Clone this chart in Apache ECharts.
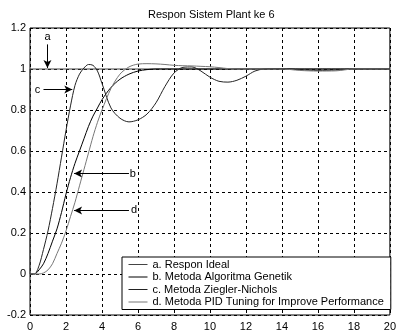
<!DOCTYPE html>
<html>
<head>
<meta charset="utf-8">
<script src="https://cdn.jsdelivr.net/npm/echarts@6/dist/echarts.min.js"></script>
<style>
html,body{margin:0;padding:0;background:#fff;}
#chart{width:399px;height:332px;}
</style>
</head>
<body>
<div id="chart"></div>
<script>
// waktu (detik)
var t=[0,0.25,0.5,0.75,1,1.25,1.5,1.75,2,2.25,2.5,2.75,3,3.25,3.5,3.75,4,
	4.5,5,5.5,6,6.5,7,7.5,8,8.5,9,9.5,10,10.5,11,11.5,12,12.5,13,
	14,15,16,17,18,19,20]
// respon ideal (step)
var ideal_t=[0,0,20]
var ideal_y=[0,1,1]
// b. algoritma genetik
var gen=[0,0,0.02,0.05,0.1,0.16,0.22,0.3,0.39,0.47,0.54,0.6,0.66,0.72,0.77,0.81,0.85,
	0.91,0.95,0.975,0.99,0.997,1,1,1,1,1,1,1,1,1,1,1,1,1,
	1,1,1,1,1,1,1]
// c. ziegler-nichols
var zn=[0,0,0.04,0.12,0.21,0.32,0.44,0.57,0.7,0.82,0.92,0.975,1.005,1.022,1.018,0.99,0.93,
	0.81,0.76,0.742,0.752,0.78,0.835,0.915,0.98,1.008,1.01,0.99,0.96,0.94,0.936,0.945,0.965,0.99,1,
	1.002,0.997,0.993,0.995,1,1,1]
// d. PID tuning for improve performance
var pid=[0,0,0,0.005,0.02,0.05,0.1,0.15,0.21,0.28,0.35,0.43,0.51,0.59,0.67,0.74,0.8,
	0.905,0.975,1.01,1.024,1.026,1.025,1.022,1.018,1.016,1.015,1.013,1.011,1.007,1.002,1,1,1,1,
	1,0.993,0.99,0.991,1,1,1]
var names=["a. Respon Ideal","b. Metoda Algoritma Genetik","c. Metoda Ziegler-Nichols","d. Metoda PID Tuning for Improve Performance"]
var warna=["#444","#000","#222","#777"]

function pasang(xs,ys){
	var out=[]
	for(var i=0;i<xs.length;i++){out.push([xs[i],ys[i]])}
	return out
}

var font="Liberation Sans, Arial, sans-serif"
var mychart=echarts.init(document.getElementById('chart'));
var option={
	animation:false,
	color:warna,
	textStyle:{fontFamily:font},
	title:{
		text:"Respon Sistem Plant ke 6",
		left:148,top:9,padding:0,
		textStyle:{fontSize:11,fontWeight:'normal',color:'#000',fontFamily:font}
	},
	grid:{left:30,right:7,top:28,bottom:14,show:true,borderColor:'#000',borderWidth:1},
	legend:{
		orient:'vertical',
		left:122,top:257,
		padding:[2,7,2,6],
		itemGap:1.5,
		itemWidth:19,itemHeight:12,
		backgroundColor:'#fff',
		borderColor:'#000',borderWidth:1,borderRadius:0,
		itemStyle:{opacity:0},//图例只显示线
		lineStyle:{width:1},
		textStyle:{fontSize:11,color:'#000',fontFamily:font},
		data:names
	},
	xAxis:{
		type:'value',min:0,max:20,interval:2,
		axisLine:{show:false},
		axisTick:{show:false},
		axisLabel:{margin:6,fontSize:11,color:'#000',fontFamily:font},
		splitLine:{lineStyle:{color:'#000',type:[3,3],width:1}}
	},
	yAxis:{
		type:'value',min:-0.2,max:1.2,interval:0.2,
		axisLine:{show:false},
		axisTick:{show:false},
		axisLabel:{margin:4,fontSize:11,color:'#000',fontFamily:font},
		splitLine:{lineStyle:{color:'#000',type:[3,3],width:1}}
	},
	series:[{
		name:names[0],
		type:'line',
		symbol:'none',
		lineStyle:{width:1},
		data:pasang(ideal_t,ideal_y),
		// panah penunjuk kurva
		markLine:{
			silent:true,
			symbol:['none','arrow'],
			symbolSize:[6,8],
			lineStyle:{color:'#000',type:'solid',width:1},
			label:{show:false},
			data:[
				[{coord:[0.97,1.12]},{coord:[0.97,1.005]}],
				[{coord:[0.75,0.9]},{coord:[2.35,0.9]}],
				[{coord:[5.5,0.49]},{coord:[2.45,0.49]}],
				[{coord:[5.5,0.31]},{coord:[2.45,0.31]}]
			]
		},
		markPoint:{
			silent:true,
			symbol:'circle',
			symbolSize:0,
			label:{show:true,position:'inside',formatter:'{b}',fontSize:11,color:'#000',fontFamily:font},
			data:[
				{name:'a',coord:[0.97,1.155]},
				{name:'c',coord:[0.41,0.9]},
				{name:'b',coord:[5.72,0.49]},
				{name:'d',coord:[5.78,0.31]}
			]
		}
	},{
		name:names[1],
		type:'line',
		symbol:'none',
		smooth:0.3,
		lineStyle:{width:1},
		data:pasang(t,gen)
	},{
		name:names[2],
		type:'line',
		symbol:'none',
		smooth:0.3,
		lineStyle:{width:1},
		data:pasang(t,zn)
	},{
		name:names[3],
		type:'line',
		symbol:'none',
		smooth:0.3,
		lineStyle:{width:1},
		data:pasang(t,pid)
	}]
};
mychart.setOption(option);
</script>
</body>
</html>
